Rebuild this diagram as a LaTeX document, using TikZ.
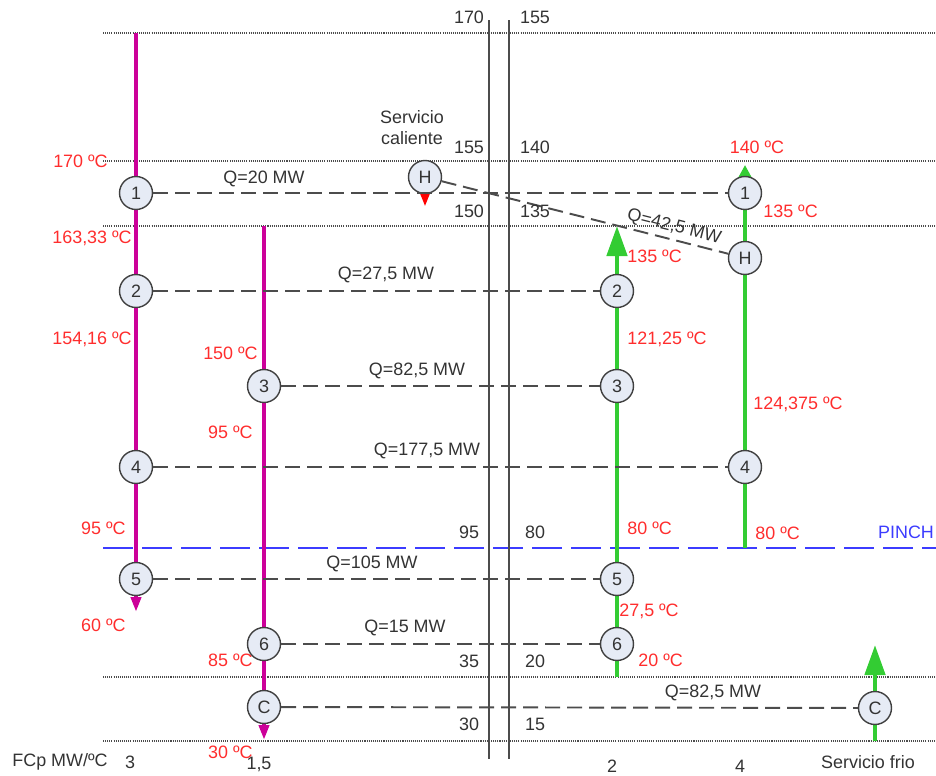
\documentclass[tikz,border=0pt]{standalone}
\usepackage{fontspec}
\setmainfont{Liberation Sans}
\usetikzlibrary{arrows.meta}
\definecolor{hotc}{RGB}{204,0,153}
\definecolor{coldc}{RGB}{51,204,51}
\definecolor{tempc}{RGB}{255,45,45}
\definecolor{pinchc}{RGB}{60,60,255}
\definecolor{hxfill}{RGB}{230,235,245}
\definecolor{txtc}{RGB}{51,51,51}

\begin{document}
\begin{tikzpicture}[x=0.2mm,y=-0.2mm,
    font=\fontsize{10.2}{12}\selectfont,
    hx/.style={circle,draw=black!75,fill=hxfill,line width=0.8pt,
      minimum size=6.6mm,inner sep=0pt,text=txtc},
    hot/.style={draw=hotc,line width=2.6pt},
    cold/.style={draw=coldc,line width=2.6pt},
    match/.style={draw=black!70,line width=1.1pt,dash pattern=on 3mm off 1.4mm},
    tline/.style={draw=black!70,line width=0.9pt,dash pattern=on 0.6pt off 0.6pt},
    temp/.style={text=tempc,inner sep=0pt},
    num/.style={text=txtc,inner sep=0pt}]
	\useasboundingbox (0,0) rectangle (936,776);
	% temperature levels and pinch
	\foreach \yy in {33,161,226,677,741}
		\draw[tline] (103,\yy) -- (936,\yy);
	\draw[pinchc,line width=1.1pt,dash pattern=on 6mm off 1.8mm] (103,548) -- (936,548);
	\draw[black!70,line width=1.1pt] (489,20) -- (489,759) (509,20) -- (509,759);
	% stream ends
	\coordinate (h1s) at (136,33);  \coordinate (h1t) at (136,612);
	\coordinate (h2s) at (264,226); \coordinate (h2t) at (264,740);
	\coordinate (c1s) at (617,677); \coordinate (c1t) at (617,226);
	\coordinate (c2s) at (745,548); \coordinate (c2t) at (745,165);
	\coordinate (cws) at (875,741); \coordinate (cwt) at (875,645);
	\coordinate (hws) at (425,161); \coordinate (hwt) at (425,206);
	\draw[hot,-{Triangle[width=2mm,length=3mm]}] (h1s) -- (h1t);
	\draw[hot,-{Triangle[width=2mm,length=3mm]}] (h2s) -- (h2t);
	\draw[cold,-{Triangle[width=4mm,length=6mm]}] (c1s) -- (c1t);
	\draw[cold,-{Triangle[width=2.4mm,length=2.4mm]}] (c2s) -- (c2t);
	\draw[cold,-{Triangle[width=4mm,length=6mm]}] (cws) -- (cwt);
	\draw[red,line width=1pt,-{Triangle[width=1.8mm,length=2.4mm]}] (hws) -- (hwt);
	% exchangers
	\node[hx] (x1h) at (136,193) {1};
	\node[hx] (x2h) at (136,291) {2};
	\node[hx] (x4h) at (136,467) {4};
	\node[hx] (x5h) at (136,579) {5};
	\node[hx] (x3h) at (264,386) {3};
	\node[hx] (x6h) at (264,644) {6};
	\node[hx] (cuh) at (264,707) {C};
	\node[hx] (x2c) at (617,291) {2};
	\node[hx] (x3c) at (617,386) {3};
	\node[hx] (x5c) at (617,579) {5};
	\node[hx] (x6c) at (617,644) {6};
	\node[hx] (x1c) at (745,193) {1};
	\node[hx] (huc) at (745,258) {H};
	\node[hx] (x4c) at (745,467) {4};
	\node[hx] (hu) at (425,177) {H};
	\node[hx] (cu) at (875,708) {C};
	% matches
	\draw[match] (x1h) -- (x1c);
	\draw[match] (x2h) -- (x2c);
	\draw[match] (x3h) -- (x3c);
	\draw[match] (x4h) -- (x4c);
	\draw[match] (x5h) -- (x5c);
	\draw[match] (x6h) -- (x6c);
	\draw[match] (cuh) -- (cu);
	\draw[match] (hu) -- (huc) node[num,sloped,above,pos=0.8,inner sep=2pt] (qh) {Q=42,5 MW};
	\node[num] (q1) at (264,179) {Q=20 MW};
	\node[num] (q2) at (386,275) {Q=27,5 MW};
	\node[num] (q3) at (417,371) {Q=82,5 MW};
	\node[num] (q4) at (427,451) {Q=177,5 MW};
	\node[num] (q5) at (372,564) {Q=105 MW};
	\node[num] (q6) at (405,628) {Q=15 MW};
	\node[num] (qc) at (713,693) {Q=82,5 MW};
	% hot temperatures
	\node[temp,anchor=east] (th1) at (108,161) {170 ºC};
	\node[temp,anchor=east] (th2) at (132,238) {163,33 ºC};
	\node[temp,anchor=east] (th3) at (132,339) {154,16 ºC};
	\node[temp,anchor=east] (th4) at (126,528) {95 ºC};
	\node[temp,anchor=east] (th5) at (126,625) {60 ºC};
	\node[temp,anchor=east] (th6) at (258,353) {150 ºC};
	\node[temp,anchor=east] (th7) at (253,432) {95 ºC};
	\node[temp,anchor=east] (th8) at (253,660) {85 ºC};
	\node[temp,anchor=east] (th9) at (253,752) {30 ºC};
	% cold temperatures
	\node[temp] (tc1) at (757,147) {140 ºC};
	\node[temp,anchor=west] (tc2) at (763,211) {135 ºC};
	\node[temp,anchor=west] (tc3) at (627,256) {135 ºC};
	\node[temp,anchor=west] (tc4) at (627,339) {121,25 ºC};
	\node[temp,anchor=west] (tc5) at (753,404) {124,375 ºC};
	\node[temp,anchor=west] (tc6) at (627,528) {80 ºC};
	\node[temp,anchor=west] (tc7) at (755,533) {80 ºC};
	\node[temp,anchor=west] (tc8) at (619,611) {27,5 ºC};
	\node[temp,anchor=west] (tc9) at (638,660) {20 ºC};
	% interval temperatures
	\foreach \yy/\tl/\tr in {17/170/155,147/155/140,211/150/135,532/95/80,661/35/20,724/30/15}{
		\node[num] (l\tl) at (469,\yy) {\tl};
		\node[num] (r\tr) at (535,\yy) {\tr};
	}
	% bottom row
	\node[num] (fcp) at (60,762) {FCp MW/ºC};
	\node[num] (f1) at (130,762) {3};
	\node[num] (f2) at (259,764) {1,5};
	\node[num] (f3) at (612,766) {2};
	\node[num] (f4) at (740,766) {4};
	\node[num] (sf) at (868,762) {Servicio frio};
	\node[num,align=center] (sc) at (412,128) {Servicio\\caliente};
	\node[text=pinchc,inner sep=0pt] (pinch) at (906,532) {PINCH};
\end{tikzpicture}
\end{document}
